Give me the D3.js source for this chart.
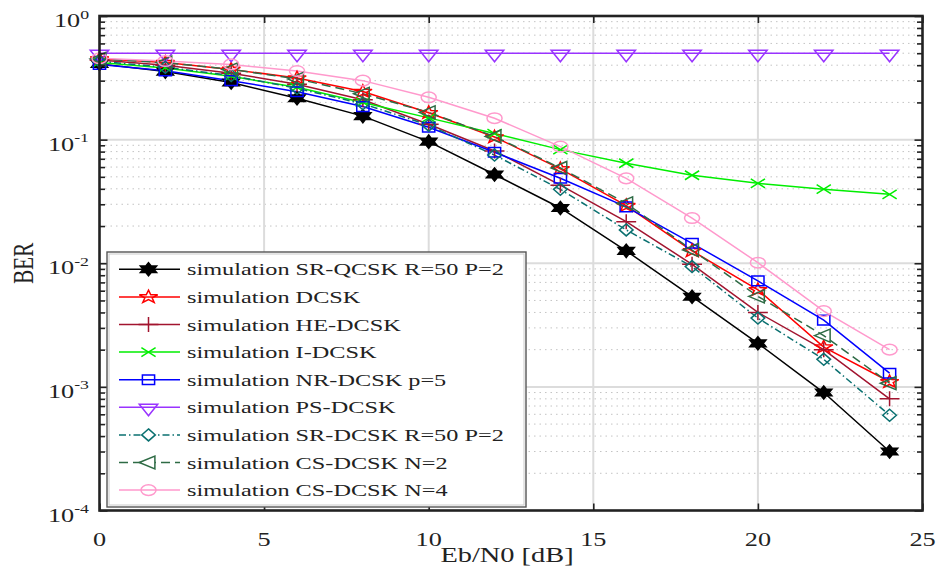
<!DOCTYPE html>
<html>
<head>
<meta charset="utf-8">
<script src="https://cdn.jsdelivr.net/npm/d3@7"></script>
<style>
  html, body { margin: 0; padding: 0; background: #fff; }
  svg { display: block; }
  text { font-family: "Liberation Serif", "Times New Roman", serif; fill: #222; }
</style>
</head>
<body>
<svg id="chart" width="936" height="569"></svg>
<script>
// Eb/N0 values (dB)
const snr = [0, 2, 4, 6, 8, 10, 12, 14, 16, 18, 20, 22, 24];

// BER curves
const srQcsk  = [0.41, 0.355, 0.29, 0.216, 0.155, 0.0963, 0.0522, 0.028, 0.0126, 0.00536, 0.00225, 0.0009, 0.0003];
const dcsk    = [0.45, 0.42, 0.37, 0.315, 0.245, 0.165, 0.105, 0.058, 0.0292, 0.0126, 0.0061, 0.0021, 0.0011];
const heDcsk  = [0.44, 0.40, 0.345, 0.28, 0.21, 0.133, 0.081, 0.0428, 0.0217, 0.0098, 0.004, 0.002, 0.0008];
const iDcsk   = [0.42, 0.38, 0.325, 0.265, 0.2, 0.15, 0.112, 0.083, 0.0644, 0.0515, 0.0443, 0.0397, 0.0361];
const nrDcsk  = [0.405, 0.36, 0.30, 0.244, 0.185, 0.126, 0.079, 0.0487, 0.0286, 0.0145, 0.0072, 0.00347, 0.00129];
const psDcsk  = [0.5, 0.5, 0.5, 0.5, 0.5, 0.5, 0.5, 0.5, 0.5, 0.5, 0.5, 0.5, 0.5];
const srDcsk  = [0.43, 0.385, 0.33, 0.26, 0.195, 0.131, 0.075, 0.0396, 0.0186, 0.0094, 0.0036, 0.00167, 0.00059];
const csDcsk2 = [0.45, 0.42, 0.37, 0.31, 0.235, 0.166, 0.106, 0.059, 0.0305, 0.0128, 0.0054, 0.0026, 0.00107];
const csDcsk4 = [0.455, 0.432, 0.406, 0.359, 0.30, 0.22, 0.149, 0.0877, 0.0486, 0.0232, 0.0101, 0.0041, 0.002];

// Legend labels
const labels = [
  "simulation SR-QCSK R=50 P=2",
  "simulation DCSK",
  "simulation HE-DCSK",
  "simulation I-DCSK",
  "simulation NR-DCSK p=5",
  "simulation PS-DCSK",
  "simulation SR-DCSK R=50 P=2",
  "simulation CS-DCSK N=2",
  "simulation CS-DCSK N=4"
];

// Axis ticks
const xTicks = [0, 5, 10, 15, 20, 25];
const yExponents = [0, -1, -2, -3, -4];
const xLabel = "Eb/N0 [dB]";
const yLabel = "BER";

// Series styling
const series = [
  { values: srQcsk,  label: labels[0], color: "#000000", marker: "hexagram", fill: true,  dash: null },
  { values: dcsk,    label: labels[1], color: "#ff0000", marker: "pentagram", fill: false, dash: null },
  { values: heDcsk,  label: labels[2], color: "#a2142f", marker: "plus",     fill: false, dash: null },
  { values: iDcsk,   label: labels[3], color: "#00ee00", marker: "cross",    fill: false, dash: null },
  { values: nrDcsk,  label: labels[4], color: "#0000ff", marker: "square",   fill: false, dash: null },
  { values: psDcsk,  label: labels[5], color: "#9933ff", marker: "triDown",  fill: false, dash: null },
  { values: srDcsk,  label: labels[6], color: "#0a7070", marker: "diamond",  fill: false, dash: "7,3,1.5,3" },
  { values: csDcsk2, label: labels[7], color: "#2e6b45", marker: "triLeft",  fill: false, dash: "9,5" },
  { values: csDcsk4, label: labels[8], color: "#ff99cc", marker: "circle",   fill: false, dash: null }
];

const W = 936, H = 569;
const plot = { left: 99.5, right: 922.5, top: 16, bottom: 510.5 };
const SX = 1.42; // horizontal glyph stretch

const x = d3.scaleLinear().domain([0, 25]).range([plot.left, plot.right]);
const y = d3.scaleLog().domain([1e-4, 1]).range([plot.bottom, plot.top]);

const svg = d3.select("#chart");
svg.append("rect").attr("width", W).attr("height", H).attr("fill", "#fff");

// star polygon helper
function star(n, R, r, rot) {
  const pts = [];
  for (let i = 0; i < 2 * n; i++) {
    const a = rot + i * Math.PI / n;
    const rr = i % 2 === 0 ? R : r;
    pts.push([rr * Math.cos(a), rr * Math.sin(a)]);
  }
  return "M" + pts.map(p => p[0].toFixed(2) + "," + p[1].toFixed(2)).join("L") + "Z";
}
function circlePath(r) {
  const p = d3.path(); p.arc(0, 0, r, 0, 2 * Math.PI); p.closePath();
  return p.toString();
}
const markerPaths = {
  hexagram: star(6, 6.6, 3.8, -Math.PI / 2),
  pentagram: star(5, 6.8, 2.7, -Math.PI / 2),
  plus: "M-7,0H7M0,-7.5V7.5",
  cross: "M-5,-4.5L5,4.5M-5,4.5L5,-4.5",
  square: "M-4.3,-4.8H4.3V4.8H-4.3Z",
  triDown: "M-6.5,-3L6.5,-3L0,8.5Z",
  diamond: "M0,-6L4.8,0L0,6L-4.8,0Z",
  triLeft: "M-6.5,0L4.5,-6.5L4.5,6.5Z",
  circle: circlePath(5.3)
};

// ---- grid ----
const grid = svg.append("g");
const minorY = [];
for (let e = -4; e < 0; e++) for (let m = 2; m <= 9; m++) minorY.push(m * Math.pow(10, e));
grid.selectAll("line.minor").data(minorY).enter().append("line")
  .attr("x1", plot.left).attr("x2", plot.right)
  .attr("y1", d => y(d)).attr("y2", d => y(d))
  .attr("stroke", "#c4c4c4").attr("stroke-width", 1).attr("stroke-dasharray", "1.5,4");
grid.selectAll("line.majY").data(yExponents.slice(1, -1)).enter().append("line")
  .attr("x1", plot.left).attr("x2", plot.right)
  .attr("y1", d => y(Math.pow(10, d))).attr("y2", d => y(Math.pow(10, d)))
  .attr("stroke", "#dcdcdc").attr("stroke-width", 2);
grid.selectAll("line.majX").data(xTicks.slice(1, -1)).enter().append("line")
  .attr("y1", plot.top).attr("y2", plot.bottom)
  .attr("x1", d => x(d)).attr("x2", d => x(d))
  .attr("stroke", "#dcdcdc").attr("stroke-width", 2);

// ---- curves ----
const line = d3.line().x((d, i) => x(snr[i])).y(d => y(d));
const curves = svg.append("g");
series.forEach(s => {
  curves.append("path").datum(s.values)
    .attr("d", line).attr("fill", "none")
    .attr("stroke", s.color).attr("stroke-width", 1.5)
    .attr("stroke-dasharray", s.dash);
});
series.forEach(s => {
  curves.append("g").selectAll("path").data(s.values).enter().append("path")
    .attr("d", markerPaths[s.marker])
    .attr("transform", (d, i) => `translate(${x(snr[i])},${y(d)}) scale(${SX},1)`)
    .attr("fill", s.fill ? s.color : "none")
    .attr("stroke", s.color).attr("stroke-width", 1.5)
    .attr("vector-effect", "non-scaling-stroke");
});

// ---- axes: inward ticks on all four sides ----
const majorY = yExponents.map(e => Math.pow(10, e));
function noDomain(g) { g.select(".domain").remove(); g.selectAll("text").remove(); g.selectAll("line").attr("stroke", "#222").attr("stroke-width", 1.6); }
svg.append("g").attr("transform", `translate(${plot.left},0)`)
  .call(d3.axisLeft(y).tickValues(majorY).tickSize(-8).tickFormat("")).call(noDomain);
svg.append("g").attr("transform", `translate(${plot.left},0)`)
  .call(d3.axisLeft(y).tickValues(minorY).tickSize(-5.5).tickFormat("")).call(noDomain);
svg.append("g").attr("transform", `translate(${plot.right},0)`)
  .call(d3.axisRight(y).tickValues(majorY).tickSize(-8).tickFormat("")).call(noDomain);
svg.append("g").attr("transform", `translate(${plot.right},0)`)
  .call(d3.axisRight(y).tickValues(minorY).tickSize(-5.5).tickFormat("")).call(noDomain);
svg.append("g").attr("transform", `translate(0,${plot.bottom})`)
  .call(d3.axisBottom(x).tickValues(xTicks).tickSize(-7).tickFormat("")).call(noDomain);
svg.append("g").attr("transform", `translate(0,${plot.top})`)
  .call(d3.axisTop(x).tickValues(xTicks).tickSize(-7).tickFormat("")).call(noDomain);

// frame
svg.append("rect")
  .attr("x", plot.left).attr("y", plot.top)
  .attr("width", plot.right - plot.left).attr("height", plot.bottom - plot.top)
  .attr("fill", "none").attr("stroke", "#222").attr("stroke-width", 2.6);

// ---- tick labels ----
svg.append("g").selectAll("text").data(xTicks).enter().append("text")
  .attr("transform", d => `translate(${x(d)},${plot.bottom + 35}) scale(${SX},1)`)
  .attr("text-anchor", "middle").attr("font-size", 18.5).text(d => d);

const yl = svg.append("g").selectAll("text").data(yExponents).enter().append("text")
  .attr("transform", d => `translate(89,${y(Math.pow(10, d)) + 11}) scale(${SX},1)`)
  .attr("text-anchor", "end").attr("font-size", 18.5);
yl.append("tspan").text("10");
yl.append("tspan").attr("font-size", 12.5).attr("dy", -8.5).text(d => d === 0 ? "0" : "-" + Math.abs(d));

// axis titles
svg.append("text")
  .attr("transform", `translate(${(plot.left + plot.right) / 2 - 4},562) scale(${SX},1)`)
  .attr("text-anchor", "middle").attr("font-size", 20).text(xLabel);
svg.append("text")
  .attr("transform", `translate(33,${(plot.top + plot.bottom) / 2}) scale(${SX},1) rotate(-90)`)
  .attr("text-anchor", "middle").attr("font-size", 21).text(yLabel);

// ---- legend ----
const lg = svg.append("g");
lg.append("rect").attr("x", 107).attr("y", 252).attr("width", 419).attr("height", 255)
  .attr("fill", "#fff").attr("stroke", "#555").attr("stroke-width", 1.4);
lg.append("rect").attr("x", 109).attr("y", 254).attr("width", 415).attr("height", 251)
  .attr("fill", "none").attr("stroke", "#ccc").attr("stroke-width", 1);
const rowY = i => 269.3 + i * 27.6;
series.forEach((s, i) => {
  const ry = rowY(i);
  lg.append("line").attr("x1", 119).attr("x2", 180).attr("y1", ry).attr("y2", ry)
    .attr("stroke", s.color).attr("stroke-width", 1.5).attr("stroke-dasharray", s.dash);
  lg.append("path").attr("d", markerPaths[s.marker])
    .attr("transform", `translate(148.5,${ry}) scale(${SX},1)`)
    .attr("fill", s.fill ? s.color : (s.dash ? "#fff" : "none"))
    .attr("stroke", s.color).attr("stroke-width", 1.5)
    .attr("vector-effect", "non-scaling-stroke");
  lg.append("text").attr("transform", `translate(187,${ry + 6}) scale(${SX},1)`)
    .attr("font-size", 17.1).text(s.label);
});
</script>
</body>
</html>
